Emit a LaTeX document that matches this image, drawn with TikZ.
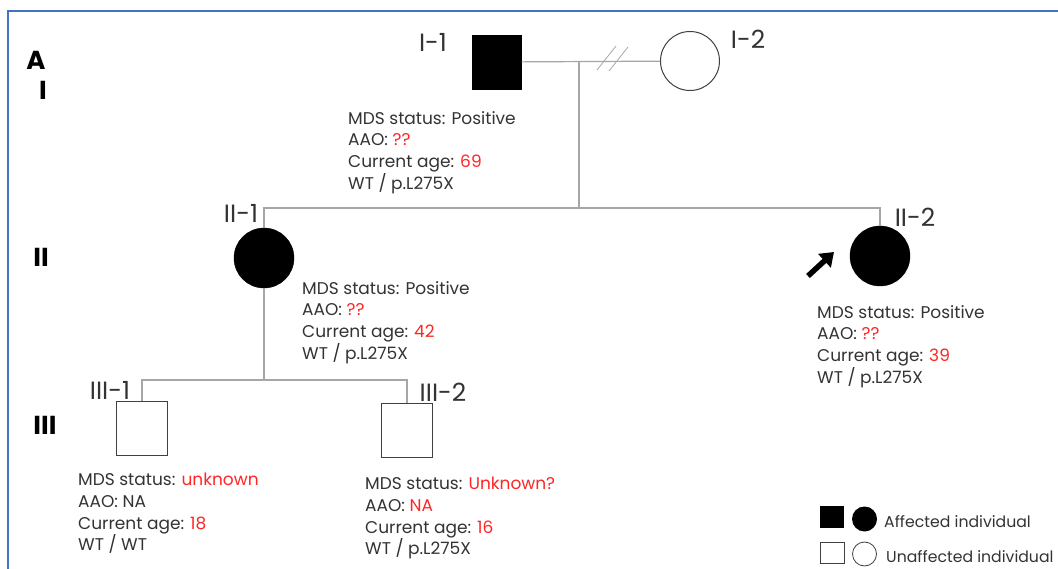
\documentclass[tikz,border=0pt]{standalone}
\usepackage{fontspec}
\setmainfont{Poppins}
\usetikzlibrary{arrows.meta}
\definecolor{linkgray}{HTML}{A6A6A6}
\definecolor{edgegray}{HTML}{404040}
\definecolor{txtgray}{HTML}{333333}
\definecolor{agered}{HTML}{FF2626}
\definecolor{frameblue}{HTML}{4472C4}
\newcommand{\rd}[1]{\textcolor{agered}{#1}}
\tikzset{
  affsq/.style={rectangle, draw=black, fill=black, minimum width=49pt, minimum height=54pt, inner sep=0pt},
  unsq/.style={rectangle, draw=edgegray, line width=1pt, minimum width=51pt, minimum height=54pt, inner sep=0pt},
  affci/.style={circle, draw=black, fill=black, minimum size=60pt, inner sep=0pt},
  unci/.style={circle, draw=edgegray, line width=1pt, minimum size=59pt, inner sep=0pt},
  link/.style={draw=linkgray, line width=1.2pt},
  idlabel/.style={font=\fontsize{25}{25}\selectfont, text=txtgray, inner sep=0pt},
  info/.style={font=\fontsize{17}{21.7}\selectfont, text=txtgray, align=left, anchor=north west, inner sep=0pt},
  gen/.style={font=\fontsize{26}{26}\selectfont\bfseries, inner sep=0pt},
  legtext/.style={font=\fontsize{15.7}{16}\selectfont, text=txtgray, anchor=west, inner sep=0pt},
}
\begin{document}
\begin{tikzpicture}[x=1pt,y=-1pt]
\useasboundingbox (0,0) rectangle (1058,569);
\fill[white] (0,0) rectangle (1058,569);
\draw[frameblue, line width=2pt] (8,569) -- (8,11) -- (1058,11);
% generations
\node[gen] (pa) at (36,60) {A};
\node[gen] (g1) at (43,90) {I};
\node[gen] (g2) at (41,257) {II};
\node[gen] (g3) at (45,425) {III};
% individuals
\node[affsq] (i1) at (497,62) {};
\node[unci] (i2) at (690,61) {};
\node[affci] (ii1) at (264,258) {};
\node[affci] (ii2) at (880,256) {};
\node[unsq] (iii1) at (142,428) {};
\node[unsq] (iii2) at (407,430) {};
\node[idlabel] (li1) at (433,42) {I-1};
\node[idlabel] (li2) at (748,39) {I-2};
\node[idlabel] (lii1) at (241,213) {II-1};
\node[idlabel] (lii2) at (915,217) {II-2};
\node[idlabel] (liii1) at (110,390) {III-1};
\node[idlabel] (liii2) at (443,392) {III-2};
% lines
\coordinate (m1) at (579,62);
\coordinate (s1) at (579,208);
\coordinate (c1) at (264,380);
\draw[link] (i1) -- (i2);
\draw[link, line width=0.8pt] (597,70) -- (616,46) (609,71) -- (628,47);
\draw[link] (m1) -- (s1);
\draw[link] (ii1) |- (s1) -| (ii2);
\draw[link] (ii1) -- (c1);
\draw[link] (iii1) |- (c1) -| (iii2);
\coordinate (pt) at (808,276);
\draw[-{Triangle[length=13pt,width=18pt]}, line width=5.5pt] (pt) -- (834,252);
% info
\node[info] (ti1) at (348,111) {MDS status: Positive\\AAO: \rd{??}\\Current age: \rd{69}\\WT / p.L275X};
\node[info] (tii1) at (302,281) {MDS status: Positive\\AAO: \rd{??}\\Current age: \rd{42}\\WT / p.L275X};
\node[info] (tii2) at (817,305) {MDS status: Positive\\AAO: \rd{??}\\Current age: \rd{39}\\WT / p.L275X};
\node[info] (tiii1) at (78,473) {MDS status: \rd{unknown}\\AAO: NA\\Current age: \rd{18}\\WT / WT};
\node[info] (tiii2) at (365,477) {MDS status: \rd{Unknown?}\\AAO: \rd{NA}\\Current age: \rd{16}\\WT / p.L275X};
% legend
\node[rectangle, fill=black, minimum width=24pt, minimum height=22pt, inner sep=0pt] (ka) at (832,517) {};
\node[circle, fill=black, minimum size=25pt, inner sep=0pt] (kb) at (864.5,519) {};
\node[rectangle, draw=edgegray, line width=0.8pt, minimum width=24pt, minimum height=21pt, inner sep=0pt] (kc) at (832,553) {};
\node[circle, draw=edgegray, line width=0.8pt, minimum size=24pt, inner sep=0pt] (kd) at (864.5,554) {};
\node[legtext] (ta) at (884,522) {Affected individual};
\node[legtext] (tb) at (886,557) {Unaffected individual};
\end{tikzpicture}
\end{document}
